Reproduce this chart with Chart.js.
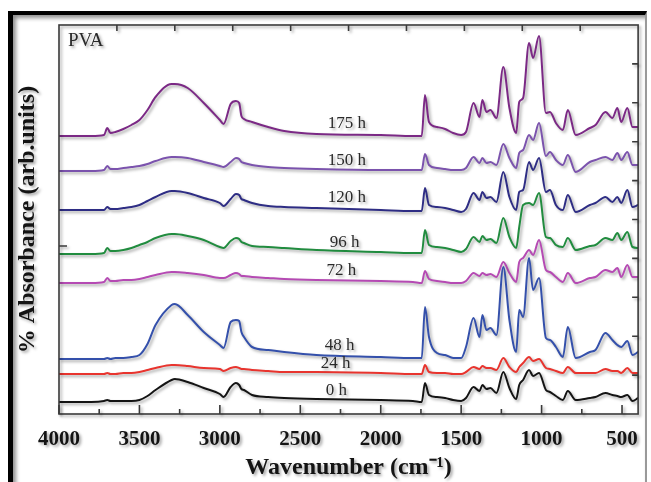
<!DOCTYPE html>
<html>
<head>
<meta charset="utf-8">
<script src="https://cdn.jsdelivr.net/npm/chart.js@4.4.0/dist/chart.umd.min.js"></script>
<style>
html,body{margin:0;padding:0;background:#fff;}
#wrap{position:relative;width:651px;height:482px;overflow:hidden;}
#frame{position:absolute;left:8px;top:11px;width:632px;height:480px;border-left:5px solid #000;border-top:4px solid #000;border-right:2px solid #999;box-shadow:inset 3px 3px 4px rgba(0,0,0,0.45);}
canvas{position:absolute;left:0;top:0;}
</style>
</head>
<body>
<div id="wrap">
<div id="frame"></div>
<canvas id="ftir" width="651" height="482"></canvas>
</div>
<script>
// wavenumber grid (cm-1) shared by all spectra
const wavenumbers = [4000,3800,3720,3700,3680,3650,3600,3550,3500,3450,3400,3300,3280,3200,3100,3000,2977,2933,2900,2880,2866,2850,2800,2700,2600,2400,2000,1800,1745,1725,1700,1650,1600,1550,1500,1470,1423,1386,1368,1343,1318,1281,1238,1200,1158,1139,1115,1078,1053,1016,973,948,911,868,837,788,700,665,603,560,529,505,467,435,400];

// stacked absorbance (arb. units, offset included)
const abs0h = [12,12,13,14,13,13,13,13,14,18,24,34,35,32,26,20,17,27,31,29,25,24,19,17,16,15,14,13,12,31,19,17,16,14,13,16,27,23,29,25,26,21,42,26,15,29,34,44,38,41,24,22,18,14,23,14,16,17,21,19,18,17,19,13,16];
const abs24h = [40,40,40,41,40,40,41,41,42,44,46,49,49,48,46,45,43,46,47,46,45,45,44,43,42,42,41,40,40,49,42,41,41,40,40,42,47,45,48,46,46,44,56,47,42,47,51,57,53,55,46,45,43,41,47,41,41,41,45,43,43,41,46,41,41];
const abs48h = [55,55,55,56,55,56,56,57,59,70,89,109,110,99,82,69,66,92,94,93,82,77,67,64,62,59,57,56,56,107,77,61,59,56,56,67,96,77,99,84,86,79,147,94,62,104,97,156,124,136,76,74,67,57,87,56,62,64,81,74,69,67,73,59,62];
const abs72h = [131,131,132,136,133,133,134,134,135,137,139,142,142,141,139,136,136,139,141,140,138,138,137,136,135,134,133,132,131,143,135,133,132,131,131,133,141,138,141,139,140,137,152,141,132,152,156,164,159,174,144,142,137,132,141,131,136,137,144,142,146,137,149,137,137];
const abs96h = [160,160,161,166,163,163,164,166,169,172,176,180,180,178,174,167,166,173,176,175,172,171,168,167,166,164,162,161,161,184,169,167,166,164,162,165,177,172,178,174,175,171,196,177,166,187,209,211,209,221,177,176,169,167,176,164,168,169,176,174,181,174,182,167,166];
const abs120h = [204,204,204,207,205,205,206,207,209,213,217,223,223,221,216,211,208,215,220,219,215,214,211,208,207,206,204,203,203,226,209,207,206,204,202,205,221,214,222,216,217,212,242,217,204,222,224,252,244,256,222,224,209,204,219,202,209,211,217,212,217,211,224,207,209];
const abs150h = [243,243,244,248,245,245,246,247,248,250,253,257,257,256,252,248,247,252,256,255,252,251,249,247,246,245,244,244,244,260,249,246,245,244,244,246,257,251,256,251,252,249,270,256,246,261,264,279,274,291,258,262,254,249,259,242,252,254,257,254,261,254,262,249,249];
const abs175h = [278,278,279,286,281,282,285,289,294,304,317,330,330,326,311,294,290,310,313,311,298,295,292,287,283,280,279,278,278,319,292,287,285,281,279,282,311,297,314,302,304,296,347,306,281,312,316,371,356,378,301,302,291,284,304,279,286,289,302,296,306,292,306,287,287];

const seriesNames = ["0 h","24 h","48 h","72 h","96 h","120 h","150 h","175 h"];
const seriesData = [abs0h,abs24h,abs48h,abs72h,abs96h,abs120h,abs150h,abs175h];
const seriesColors = ["#141414","#e8342e","#3450ab","#b54ab3","#218c3f","#2e2d84","#7b53ad","#7b2985"];

// where each curve's name is written (wavenumber, level)
const labelWave = [2275,2280,2255,2245,2225,2210,2210,2210];
const labelLevel = [23,50,68,143,171,216,253,290];

const xTickLabels = [4000,3500,3000,2500,2000,1500,1000,500];
const xMinorTicks = [3750,3250,2750,2250,1750,1250,750];
const frameDivisions = [1,2,3,4,5,6,7,8,9];
const leftTicks = [168];

const font = "'Liberation Serif','Times New Roman',serif";

const decor = {
  id:"decor",
  beforeDraw(chart){
    const ctx=chart.ctx;
    ctx.save();
    ctx.shadowColor="rgba(0,0,0,0.35)";
    ctx.shadowOffsetX=2;
    ctx.shadowOffsetY=2;
    ctx.shadowBlur=3;
  },
  afterDraw(chart){
    const ctx=chart.ctx;
    const a=chart.chartArea;
    const x=chart.scales.x, y=chart.scales.y;
    const w=a.right-a.left, h=a.bottom-a.top;

    ctx.strokeStyle="#3a3a3a";
    ctx.lineWidth=1.6;
    ctx.strokeRect(a.left,a.top,w,h);

    ctx.beginPath();
    xTickLabels.forEach(v=>{
      const px=x.getPixelForValue(v);
      ctx.moveTo(px,a.bottom); ctx.lineTo(px,a.bottom-9);
    });
    xMinorTicks.forEach(v=>{
      const px=x.getPixelForValue(v);
      ctx.moveTo(px,a.bottom); ctx.lineTo(px,a.bottom-5);
    });
    frameDivisions.forEach(k=>{
      const px=a.left+w*k/10;
      ctx.moveTo(px,a.top); ctx.lineTo(px,a.top+6);
      const py=a.bottom-h*k/10;
      ctx.moveTo(a.right,py); ctx.lineTo(a.right-6,py);
    });
    leftTicks.forEach(v=>{
      const py=y.getPixelForValue(v);
      ctx.moveTo(a.left,py); ctx.lineTo(a.left+8,py);
    });
    ctx.stroke();

    ctx.fillStyle="#2a2a2a";
    ctx.font="17px "+font;
    ctx.textAlign="center";
    ctx.textBaseline="middle";
    seriesNames.forEach((name,i)=>{
      ctx.fillText(name,x.getPixelForValue(labelWave[i]),y.getPixelForValue(labelLevel[i]));
    });

    ctx.textAlign="left";
    ctx.font="19px "+font;
    ctx.fillText("PVA",a.left+9,a.top+16);
    ctx.restore();
  }
};

const datasets = seriesNames.map((name,i)=>({
  label:name,
  data:wavenumbers.map((w,j)=>({x:w,y:seriesData[i][j]})),
  borderColor:seriesColors[i],
  borderWidth:2,
  pointRadius:0,
  fill:false,
  cubicInterpolationMode:"monotone"
}));

new Chart(document.getElementById("ftir"),{
  type:"line",
  data:{datasets:datasets},
  options:{
    responsive:false,
    animation:false,
    events:[],
    layout:{padding:{left:9,top:25,right:8,bottom:0}},
    plugins:{legend:{display:false},tooltip:{enabled:false}},
    scales:{
      x:{
        type:"linear",
        reverse:true,
        min:400,
        max:4000,
        afterBuildTicks:s=>{ s.ticks=xTickLabels.map(v=>({value:v})); },
        afterFit:s=>{ s.height=68; },
        grid:{display:false,drawTicks:false},
        border:{display:false},
        ticks:{color:"#141414",padding:13,maxRotation:0,autoSkip:false,callback:v=>String(v),font:{family:font,size:21,weight:"bold"}},
        title:{display:true,text:"Wavenumber (cm\u207B\u00B9)",color:"#141414",padding:{top:0,bottom:0},font:{family:font,size:24,weight:"bold"}}
      },
      y:{
        type:"linear",
        min:0,
        max:389,
        afterFit:s=>{ s.width=50; },
        grid:{display:false,drawTicks:false},
        border:{display:false},
        ticks:{display:false},
        title:{display:true,text:"% Absorbance (arb.units)",color:"#141414",padding:{top:4,bottom:4},font:{family:font,size:24,weight:"bold"}}
      }
    }
  },
  plugins:[decor]
});
</script>
</body>
</html>
